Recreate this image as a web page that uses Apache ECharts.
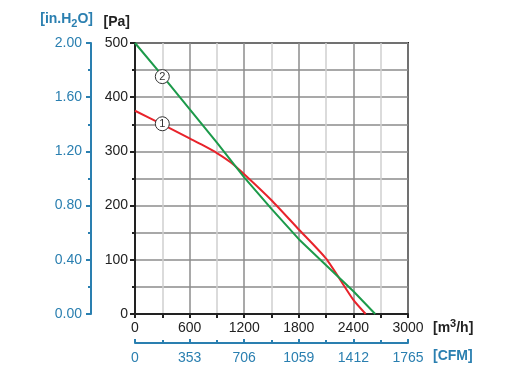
<!DOCTYPE html>
<html>
<head>
<meta charset="utf-8">
<script src="https://cdn.jsdelivr.net/npm/echarts@6/dist/echarts.min.js"></script>
<style>
  html, body { margin: 0; padding: 0; background: #fff; }
  #chart { width: 514px; height: 377px; }
</style>
</head>
<body>
<div id="chart"></div>
<script>
// 曲线数据 (m3/h -> Pa)
var flowRed = [0, 300, 600, 750, 900, 1050, 1200, 1500, 1800, 2100, 2400, 2535];
var paRed = [375, 350, 324, 311, 297, 280, 258, 210, 156, 102, 26, 0];
var flowGreen = [0, 300, 600, 900, 1200, 1500, 1800, 2100, 2400, 2640];
var paGreen = [500, 440, 378, 316, 252, 194, 138, 90, 42, 0];

// 标号位置
var markRed = [300, 351];
var markGreen = [300, 438];

var FONT = '"Liberation Sans", Arial, sans-serif';
var BLUE = '#2a7fb0';
var DARK = '#222';

function pairs(xs, ys) {
    var out = [];
    for (var i = 0; i < xs.length; i++) out.push([xs[i], ys[i]]);
    return out;
}

function circleMark(coord, txt) {
    return {
        symbol: 'circle',
        symbolSize: 14,
        silent: true,
        itemStyle: { color: '#fff', borderColor: '#333', borderWidth: 1 },
        label: { show: true, position: 'inside', color: '#333', fontSize: 11, fontFamily: FONT, formatter: txt },
        data: [{ coord: coord }]
    };
}

function plain(v) { return String(v); }

var chart = echarts.init(document.getElementById('chart'));

var option = {
    animation: false,
    textStyle: { fontFamily: FONT },
    grid: {
        left: 135, top: 43, right: 106, bottom: 63,
        show: true, borderColor: DARK, borderWidth: 2, backgroundColor: '#fff'
    },
    xAxis: [
        {
            type: 'value', min: 0, max: 3000, interval: 600,
            position: 'bottom',
            name: '{a|[m}{s|3}{a|/h]}',
            nameLocation: 'end', nameGap: 25,
            nameTextStyle: {
                rich: {
                    a: { fontSize: 14, fontWeight: 'bold', color: DARK, fontFamily: FONT },
                    s: { fontSize: 11, fontWeight: 'bold', color: DARK, fontFamily: FONT, verticalAlign: 'bottom', padding: [0, 0, 9, 0] }
                },
                padding: [28, 0, 0, 0]
            },
            axisLine: { lineStyle: { color: DARK, width: 2 } },
            axisTick: { show: true, length: 4, lineStyle: { color: DARK, width: 2 } },
            minorTick: { show: true, splitNumber: 2, length: 4, lineStyle: { color: DARK, width: 2 } },
            axisLabel: { color: DARK, fontSize: 14, margin: 7, fontFamily: FONT, formatter: plain },
            splitLine: { show: true, lineStyle: { color: '#8c8c8c', width: 1.5 } },
            minorSplitLine: { show: true, lineStyle: { color: '#cfcfcf', width: 1.5 } }
        },
        {
            type: 'value', min: 0, max: 1765, interval: 353,
            position: 'bottom', offset: 29,
            name: '{a|[CFM]}',
            nameLocation: 'end', nameGap: 25,
            nameTextStyle: {
                rich: {
                    a: { color: BLUE, fontSize: 14, fontWeight: 'bold', fontFamily: FONT }
                },
                padding: [26, 0, 0, 0]
            },
            axisLine: { onZero: false, lineStyle: { color: BLUE, width: 2 } },
            axisTick: { show: true, inside: true, length: 4, lineStyle: { color: BLUE, width: 2 } },
            minorTick: { show: true, splitNumber: 2, length: 3, lineStyle: { color: BLUE, width: 2 } },
            axisLabel: { color: BLUE, fontSize: 14, margin: 8, fontFamily: FONT, formatter: plain },
            splitLine: { show: false }
        }
    ],
    yAxis: [
        {
            type: 'value', min: 0, max: 500, interval: 100,
            position: 'left',
            name: '[Pa]',
            nameLocation: 'end', nameGap: 14,
            nameTextStyle: { color: DARK, fontSize: 14, fontWeight: 'bold', fontFamily: FONT, align: 'right', padding: [0, 5, 0, 0] },
            axisLine: { lineStyle: { color: DARK, width: 2 } },
            axisTick: { show: true, length: 5, lineStyle: { color: DARK, width: 2 } },
            minorTick: { show: true, splitNumber: 2, length: 3, lineStyle: { color: DARK, width: 2 } },
            axisLabel: { color: DARK, fontSize: 14, margin: 7, fontFamily: FONT },
            splitLine: { show: true, lineStyle: { color: '#8c8c8c', width: 1.5 } },
            minorSplitLine: { show: true, lineStyle: { color: '#8c8c8c', width: 1.5 } }
        },
        {
            type: 'value', min: 0, max: 2, interval: 0.4,
            position: 'left', offset: 44,
            name: '{a|[in.H}{s|2}{a|O]}',
            nameLocation: 'end', nameGap: 14,
            nameTextStyle: {
                align: 'right', padding: [0, -2, 0, 0],
                rich: {
                    a: { fontSize: 14, fontWeight: 'bold', color: BLUE, fontFamily: FONT },
                    s: { fontSize: 11, fontWeight: 'bold', color: BLUE, fontFamily: FONT, verticalAlign: 'top', padding: [9, 0, 0, 0] }
                }
            },
            axisLine: { onZero: false, lineStyle: { color: BLUE, width: 2 } },
            axisTick: { show: true, length: 5, lineStyle: { color: BLUE, width: 2 } },
            minorTick: { show: true, splitNumber: 2, length: 3, lineStyle: { color: BLUE, width: 2 } },
            axisLabel: {
                color: BLUE, fontSize: 14, margin: 9, fontFamily: FONT,
                formatter: function (v) { return v.toFixed(2); }
            },
            splitLine: { show: false }
        }
    ],
    series: [
        {
            name: '1', type: 'line', xAxisIndex: 0, yAxisIndex: 0,
            data: pairs(flowRed, paRed),
            showSymbol: false, clip: true, smooth: 0.2,
            lineStyle: { color: '#e8232b', width: 2 },
            markPoint: circleMark(markRed, '1')
        },
        {
            name: '2', type: 'line', xAxisIndex: 0, yAxisIndex: 0,
            data: pairs(flowGreen, paGreen),
            showSymbol: false, clip: true,
            lineStyle: { color: '#1c9a4a', width: 2 },
            markPoint: circleMark(markGreen, '2')
        }
    ]
};

chart.setOption(option);
</script>
</body>
</html>
